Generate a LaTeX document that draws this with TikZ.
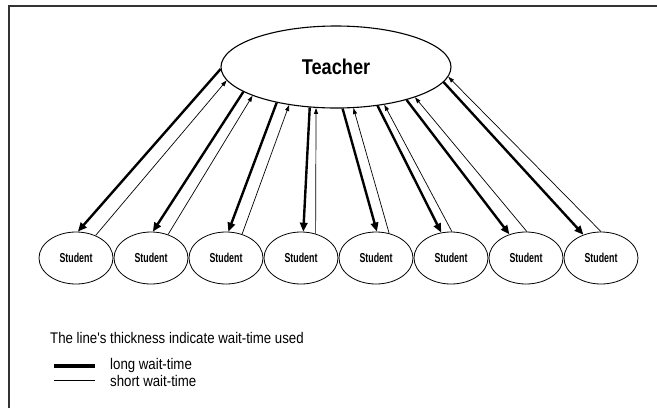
\documentclass[tikz,border=0pt]{standalone}
\usepackage{fontspec}
\setmainfont{Liberation Sans}
\newfontfamily\teachfont[FakeStretch=0.85]{Liberation Sans}
\newfontfamily\stufont[FakeStretch=0.68]{Liberation Sans}
\newfontfamily\legfont[FakeStretch=0.86]{Liberation Sans}
\usetikzlibrary{arrows.meta,shapes.geometric}
\begin{document}
\begin{tikzpicture}[x=1pt,y=-1pt,
  frameline/.style={draw=black!80,line width=1.3pt},
  teacherbox/.style={ellipse,draw,line width=1.1pt,minimum width=230pt,minimum height=82pt,inner sep=0pt,
    font=\teachfont\bfseries\fontsize{21.4}{24}\selectfont},
  studentbox/.style={ellipse,draw,line width=0.8pt,minimum width=74pt,minimum height=52pt,inner sep=0pt,
    font=\stufont\bfseries\fontsize{13}{15}\selectfont},
  longarr/.style={line width=2.4pt,-{Triangle[length=9pt,width=7.5pt]}},
  shortarr/.style={line width=0.7pt,-{Triangle[length=6pt,width=4pt]}},
  legtext/.style={anchor=base west,inner sep=0pt,font=\legfont\fontsize{15.4}{17}\selectfont}]
\useasboundingbox (0,0) rectangle (657,408);
\coordinate (fr1) at (9,408);
\coordinate (fr2) at (9,6);
\coordinate (fr3) at (657,6);
\draw[frameline] (fr1) -- (fr2) -- (fr3);

\node[teacherbox] (T) at (336,67) {Teacher};
\foreach \i/\x in {1/76,2/151,3/226,4/301,5/376,6/451,7/526,8/601}
  \node[studentbox] (S\i) at (\x,258) {Student};

\foreach \i/\ta/\sa/\sb/\tb in {1/181/86/49/187, 2/195/86/54/199, 3/211/85/56/219, 4/237/85/59/244,
    5/279/88/62/293, 6/317/111/88/322, 7/335/125/88/339, 8/352/127/90/355}{
  \draw[longarr] (T.\ta) -- (S\i.\sa);
  \draw[shortarr] (S\i.\sb) -- (T.\tb);
}

\node[legtext] (cap) at (50,343) {The line's thickness indicate wait-time used};
\coordinate (l1a) at (54,366);
\coordinate (l1b) at (95,366);
\coordinate (l2a) at (54,380);
\coordinate (l2b) at (95,380);
\draw[line width=3.5pt] (l1a) -- (l1b);
\draw[line width=0.9pt] (l2a) -- (l2b);
\node[legtext] (lg1) at (110,369) {long wait-time};
\node[legtext] (lg2) at (110,386) {short wait-time};
\end{tikzpicture}
\end{document}
